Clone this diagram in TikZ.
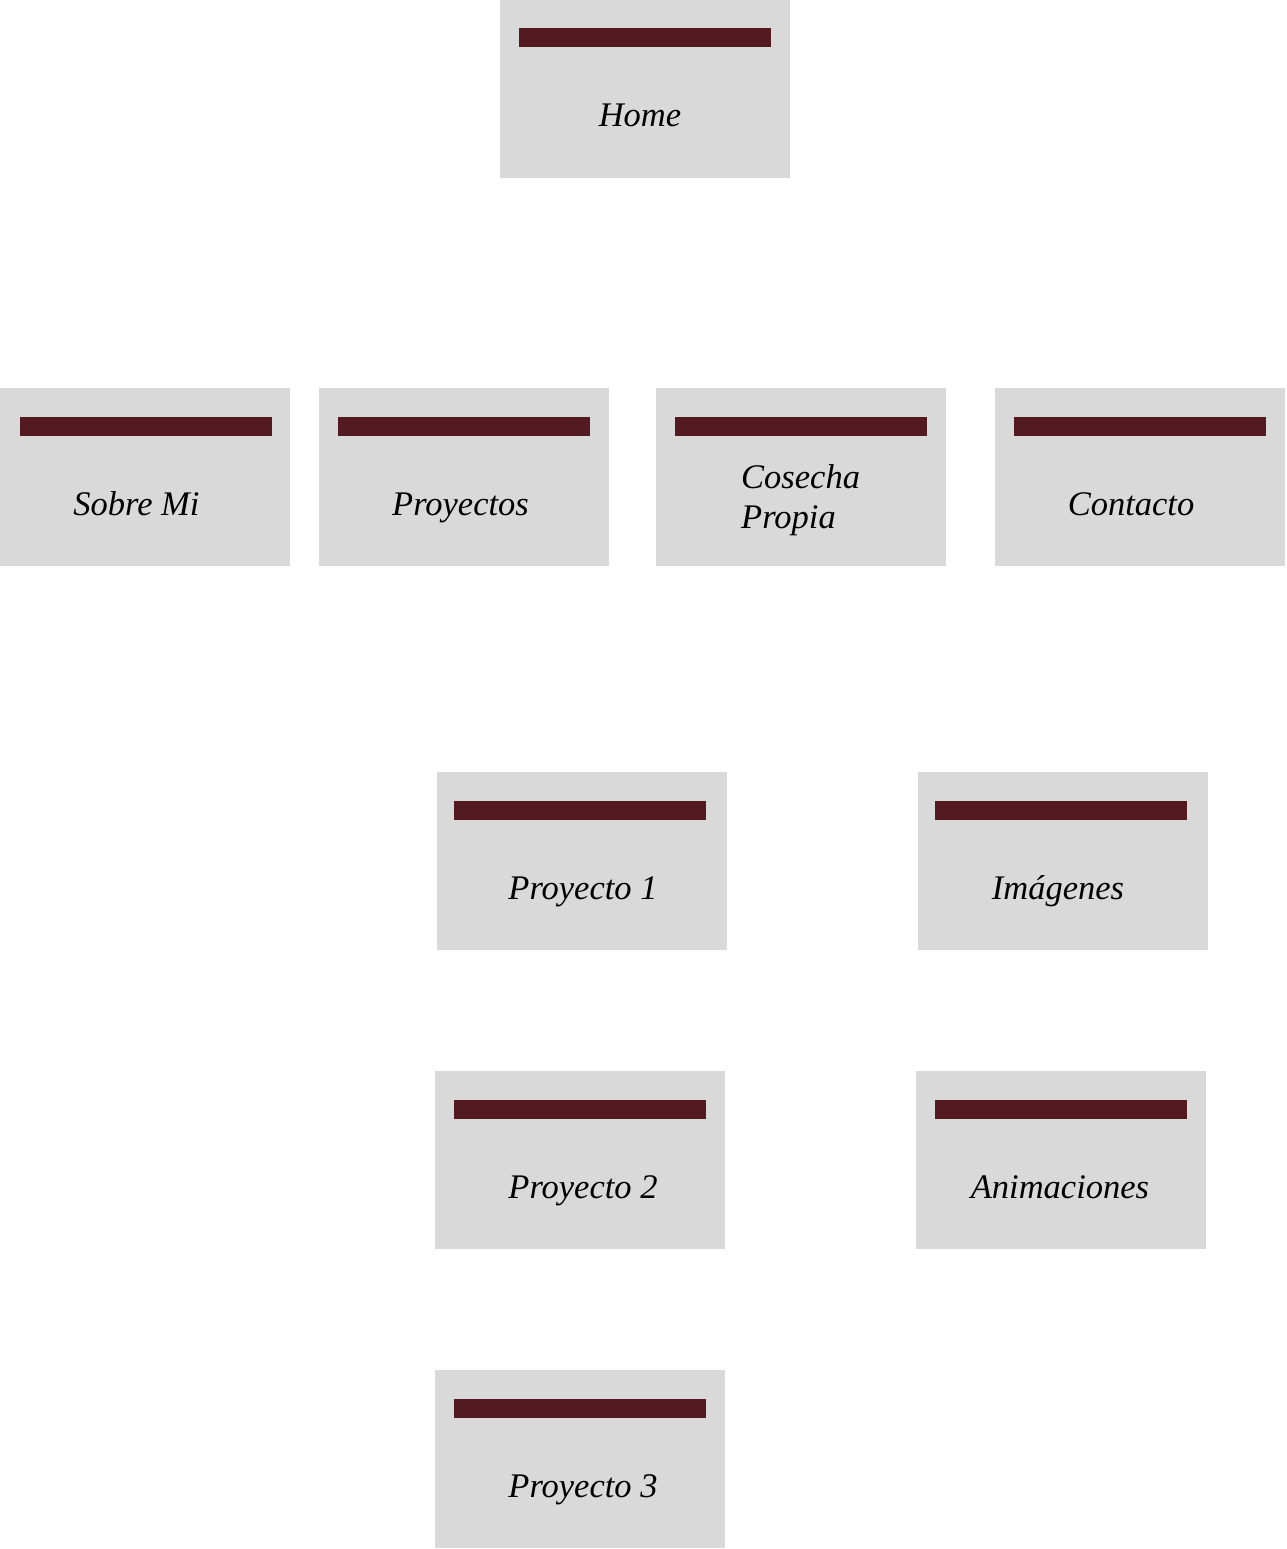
\documentclass[tikz,border=0pt]{standalone}
\usepackage{fontspec}
\setmainfont{Liberation Serif}
\definecolor{boxgray}{HTML}{D9D9D9}
\definecolor{barred}{HTML}{531A22}
\tikzset{
  card/.style={fill=boxgray, draw=none, inner sep=0pt, outer sep=0pt, minimum width=290pt, minimum height=178pt, anchor=north west},
  bar/.style={fill=barred, draw=none, inner sep=0pt, outer sep=0pt, minimum width=252pt, minimum height=19pt, anchor=north west},
  lbl/.style={font=\itshape\fontsize{34.5}{40}\selectfont, anchor=base, inner sep=0pt}
}
\begin{document}
\begin{tikzpicture}[x=1pt,y=-1pt]
\useasboundingbox (0,0) rectangle (1286,1549);
% Home
\node[card] (home) at (500,0) {};
\node[bar] (homebar) at (519,28.5) {};
\node[lbl] (homelbl) at (640,127) {Home};
% Sobre Mi
\node[card] (sobre) at (0,388) {};
\node[bar] (sobrebar) at (20,416.5) {};
\node[lbl] (sobrelbl) at (136.5,515) {Sobre Mi};
% Proyectos
\node[card] (proy) at (319,388) {};
\node[bar] (proybar) at (338,416.5) {};
\node[lbl] (proylbl) at (460.5,515) {Proyectos};
% Cosecha Propia
\node[card] (cosecha) at (656,388) {};
\node[bar] (cosechabar) at (675,416.5) {};
\node[lbl, anchor=base west, align=left] (cosechalbl) at (741,528) {Cosecha\\Propia};
% Contacto
\node[card] (contacto) at (995,388) {};
\node[bar] (contactobar) at (1014,416.5) {};
\node[lbl] (contactolbl) at (1131,515) {Contacto};
% Proyecto 1
\node[card] (p1) at (437,772) {};
\node[bar] (p1bar) at (454,800.5) {};
\node[lbl] (p1lbl) at (583,899) {Proyecto 1};
% Imagenes
\node[card] (img) at (918,772) {};
\node[bar] (imgbar) at (935,800.5) {};
\node[lbl] (imglbl) at (1058,899) {Imágenes};
% Proyecto 2
\node[card] (p2) at (435,1071) {};
\node[bar] (p2bar) at (454,1099.5) {};
\node[lbl] (p2lbl) at (583,1198) {Proyecto 2};
% Animaciones
\node[card] (anim) at (916,1071) {};
\node[bar] (animbar) at (935,1099.5) {};
\node[lbl] (animlbl) at (1060,1198) {Animaciones};
% Proyecto 3
\node[card] (p3) at (435,1370) {};
\node[bar] (p3bar) at (454,1398.5) {};
\node[lbl] (p3lbl) at (583,1497) {Proyecto 3};
\end{tikzpicture}
\end{document}
